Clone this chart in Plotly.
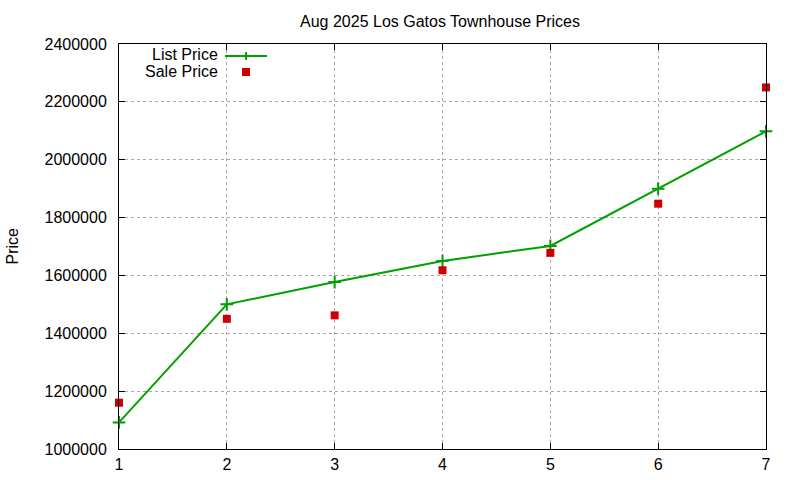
"""Aug 2025 Los Gatos townhouse prices: list vs. sale, gnuplot-style."""

import plotly.graph_objects as go

sale_index = [1, 2, 3, 4, 5, 6, 7]
list_price = [1092000, 1500000, 1577000, 1650000, 1702000, 1900000, 2098000]
sale_price = [1160000, 1450000, 1462000, 1618000, 1678000, 1848000, 2250000]
y_ticks = [1000000, 1200000, 1400000, 1600000, 1800000, 2000000, 2200000, 2400000]

GREEN = "#00a000"
RED = "#cc0000"
FONT = "Liberation Sans, Arial, sans-serif"

fig = go.Figure()
fig.add_scatter(
    x=sale_index, y=list_price, name="List Price", mode="lines+markers",
    line=dict(color=GREEN, width=2),
    marker=dict(symbol="cross-thin", size=9, line=dict(color=GREEN, width=2)),
    cliponaxis=False,
)
fig.add_scatter(
    x=sale_index, y=sale_price, name="Sale Price", mode="markers",
    marker=dict(symbol="square", size=8, color=RED),
    cliponaxis=False,
)

axis_common = dict(
    showline=True, linecolor="black", linewidth=1, mirror="ticks",
    ticks="inside", ticklen=6, tickcolor="black",
    showgrid=True, gridcolor="#a8a8a8", griddash="dot", gridwidth=1,
    zeroline=False, tickfont=dict(family=FONT, size=16, color="black"),
)
fig.update_xaxes(range=[1, 7], tickvals=sale_index, ticklabelstandoff=1, **axis_common)
fig.update_yaxes(range=[1000000, 2400000], tickvals=y_ticks, tickformat="d",
                 ticklabelstandoff=8, **axis_common)

# gnuplot-style key: text right-aligned, sample to the right
ypx = lambda py: (449 - py) / 405
xpx = lambda px: (px - 119) / 647
for label, py in [("List Price", 55), ("Sale Price", 71)]:
    fig.add_annotation(x=xpx(220), y=ypx(py), xref="paper", yref="paper", text=label,
                       showarrow=False, xanchor="right", yanchor="middle",
                       font=dict(family=FONT, size=16, color="black"))
fig.add_shape(type="line", xref="paper", yref="paper", x0=xpx(225), x1=xpx(267),
              y0=ypx(56), y1=ypx(56), line=dict(color=GREEN, width=2))
fig.add_shape(type="line", xref="paper", yref="paper", x0=xpx(246), x1=xpx(246),
              y0=ypx(52), y1=ypx(60), line=dict(color=GREEN, width=2))
fig.add_shape(type="rect", xref="paper", yref="paper", x0=xpx(242), x1=xpx(250),
              y0=ypx(68), y1=ypx(76), fillcolor=RED, line=dict(width=0))

fig.add_annotation(x=xpx(12), y=0.5, xref="paper", yref="paper", text="Price",
                   textangle=-90, showarrow=False, xanchor="center", yanchor="middle",
                   font=dict(family=FONT, size=16, color="black"))

fig.update_layout(
    width=800, height=480, template="none", showlegend=False,
    plot_bgcolor="white", paper_bgcolor="white",
    margin=dict(l=119, r=34, t=44, b=31),
    title=dict(text="Aug 2025 Los Gatos Townhouse Prices", x=440 / 800, xanchor="center",
               y=1 - 21 / 480, yanchor="middle", font=dict(family=FONT, size=16, color="black")),
)

# drop the browser's default 8px body margin so the figure sits at (0, 0)
fig.write_html("out.html", config={"displayModeBar": False},
               post_script="document.body.style.margin = '0';")
